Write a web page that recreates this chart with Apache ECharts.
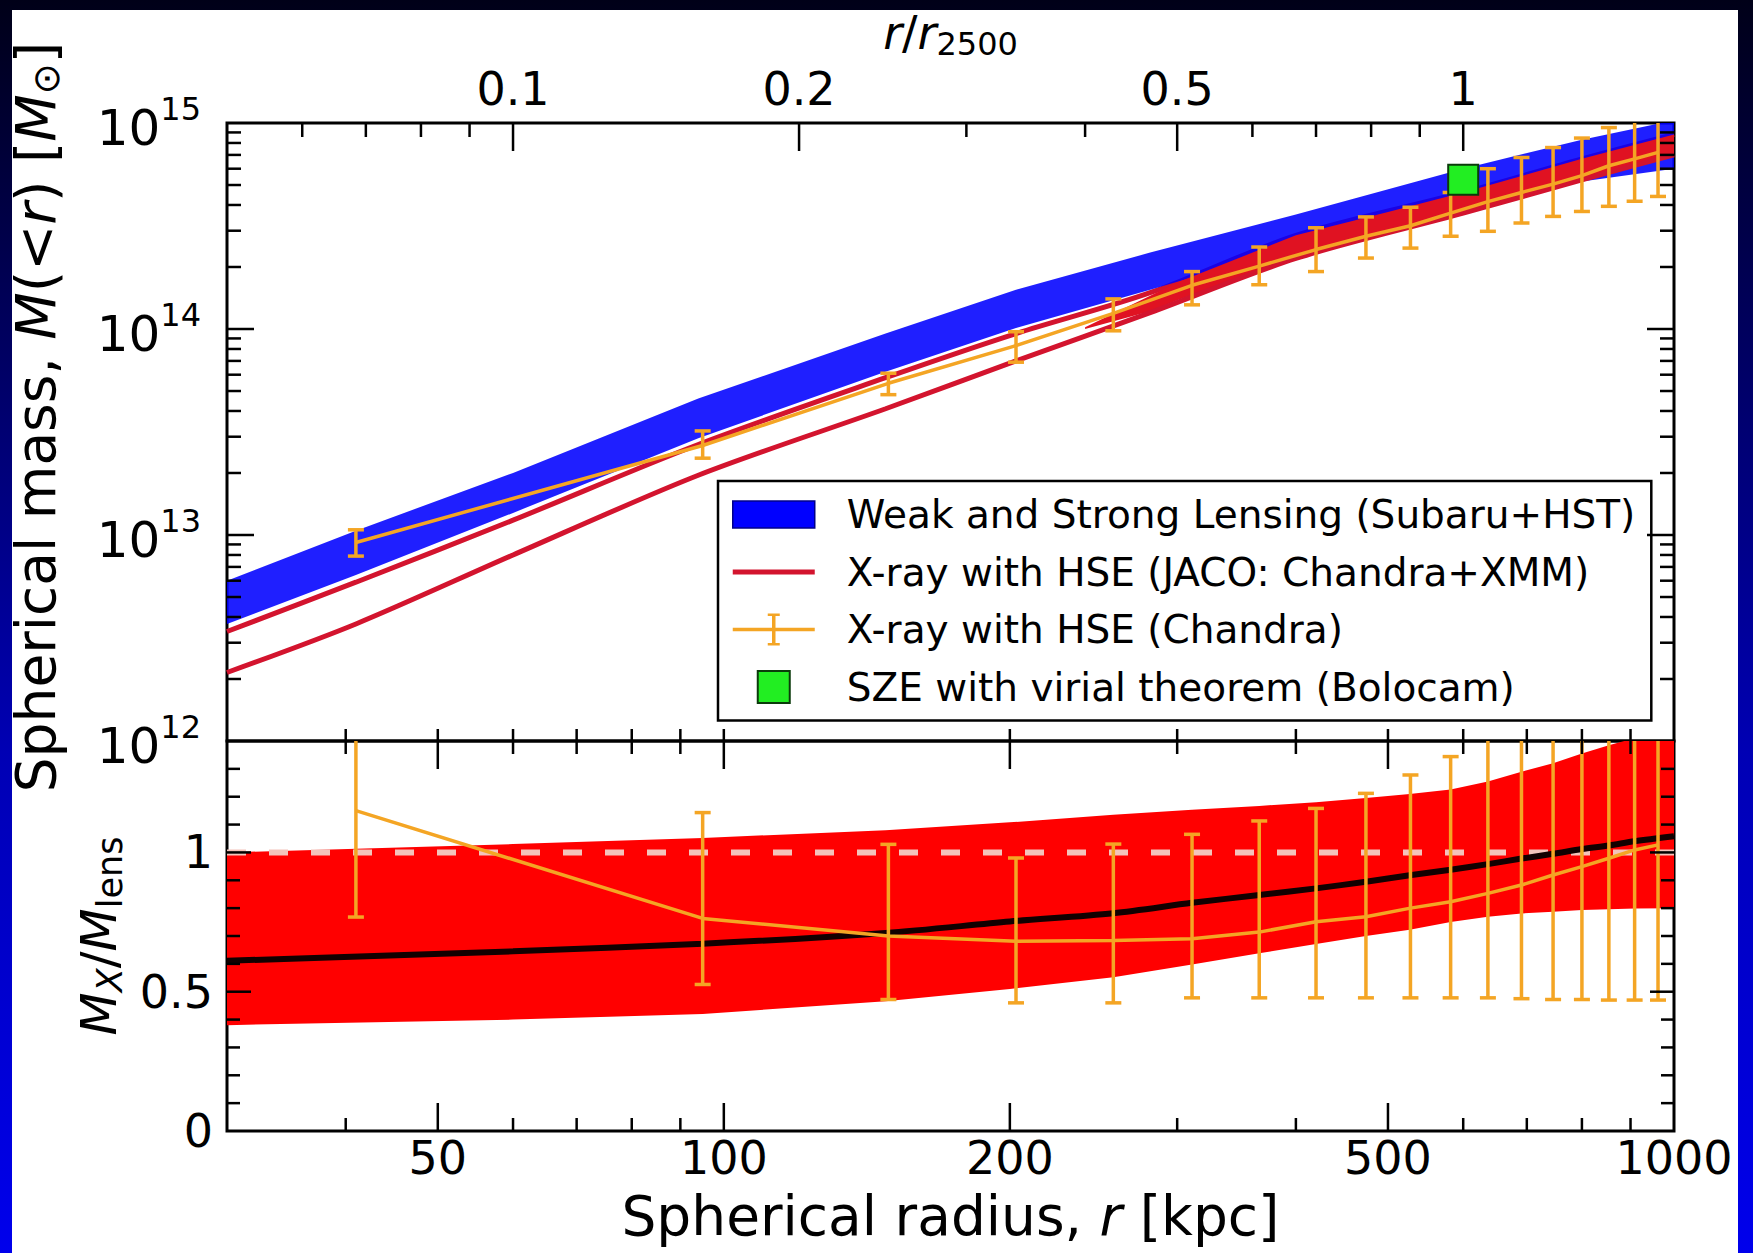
<!DOCTYPE html>
<html>
<head>
<meta charset="utf-8">
<script src="https://cdn.jsdelivr.net/npm/echarts@6/dist/echarts.min.js"></script>
<style>
  html, body { margin: 0; padding: 0; width: 1753px; height: 1253px; overflow: hidden;
    background: linear-gradient(to bottom, #000018 0%, #00005a 25%, #0000b4 60%, #0000ec 100%); }
  #paper { position: absolute; left: 12px; top: 10px; width: 1726px; height: 1243px; background: #fff; }
  #chart { position: absolute; left: 0; top: 0; width: 1753px; height: 1253px; }
</style>
</head>
<body>
<div id="paper"></div>
<div id="chart"></div>
<script>
// axis ranges
const R_MIN = 30, R_MAX = 1000;
const R2500 = 600;
const MASS_MIN = 1e12, MASS_MAX = 1e15;
const RATIO_MIN = 0, RATIO_MAX = 1.4;

// lensing band (Subaru+HST), M(<r) in Msun
const lensR  = [30, 41, 60, 94, 148, 203, 281, 400, 600, 800, 1000];
const lensHi = [6.0e12, 1.05e13, 2.0e13, 4.6e13, 9.5e13, 1.55e14, 2.35e14, 3.6e14, 6.0e14, 8.3e14, 1.03e15];
const lensLo = [3.7e12, 6.4e12, 1.28e13, 2.95e13, 6.2e13, 1.01e14, 1.55e14, 2.5e14, 4.3e14, 5.2e14, 6.0e14];

// JACO (Chandra+XMM): upper / lower profiles and the red region where they open up
const jacoR  = [30, 41, 60, 94, 148, 203, 281, 400, 600, 800, 1000];
const jacoHi = [3.4e12, 5.9e12, 1.18e13, 2.75e13, 5.8e13, 9.5e13, 1.5e14, 2.85e14, 4.6e14, 6.7e14, 8.8e14];
const jacoLo = [2.15e12, 3.7e12, 8.0e12, 1.95e13, 4.1e13, 7.0e13, 1.2e14, 2.2e14, 3.65e14, 5.3e14, 7.0e14];
const jacoFillR  = [240, 281, 300, 400, 500, 600, 800, 1000];
const jacoFillHi = [1.02e14, 1.45e14, 1.68e14, 2.85e14, 3.7e14, 4.6e14, 6.7e14, 8.8e14];
const jacoFillLo = [1.0e14, 1.22e14, 1.38e14, 2.2e14, 2.9e14, 3.65e14, 5.3e14, 7.0e14];

// Chandra HSE points
const chandraR   = [41, 95, 149, 203, 257, 311, 366, 420, 474, 528, 582, 637, 691, 746, 800, 854, 909, 962];
const chandraM   = [9.2e12, 2.72e13, 5.45e13, 8.3e13, 1.19e14, 1.63e14, 2.02e14, 2.43e14, 2.82e14, 3.17e14, 3.65e14, 4.15e14, 4.6e14, 5.05e14, 5.55e14, 6.2e14, 6.7e14, 7.2e14];
const chandraMLo = [7.9e12, 2.36e13, 4.8e13, 6.9e13, 9.8e13, 1.31e14, 1.64e14, 1.9e14, 2.21e14, 2.47e14, 2.82e14, 2.98e14, 3.27e14, 3.52e14, 3.72e14, 3.94e14, 4.17e14, 4.4e14];
const chandraMHi = [1.06e13, 3.2e13, 6.1e13, 9.7e13, 1.4e14, 1.9e14, 2.5e14, 3.1e14, 3.5e14, 3.9e14, 4.6e14, 6.0e14, 6.8e14, 7.6e14, 8.45e14, 9.5e14, 1.05e15, 1.15e15];

// SZE (Bolocam)
const szeR = [600];
const szeM = [5.3e14];

// ratio panel: JACO / lensing band and its centre
const ratioR   = [30, 60, 95, 148, 200, 257, 311, 366, 420, 474, 527, 582, 637, 691, 746, 800, 854, 909, 1000];
const ratioHi  = [1.0, 1.03, 1.052, 1.08, 1.108, 1.135, 1.153, 1.167, 1.18, 1.195, 1.21, 1.226, 1.255, 1.29, 1.32, 1.355, 1.385, 1.41, 1.47];
const ratioLo  = [0.38, 0.40, 0.42, 0.466, 0.51, 0.552, 0.598, 0.638, 0.671, 0.7, 0.722, 0.75, 0.769, 0.781, 0.787, 0.793, 0.796, 0.799, 0.80];
const ratioMid = [0.611, 0.645, 0.672, 0.711, 0.752, 0.782, 0.819, 0.847, 0.871, 0.895, 0.918, 0.938, 0.958, 0.978, 0.995, 1.012, 1.025, 1.04, 1.058];

// Chandra / lensing ratio
const chandraRatio   = [1.15, 0.763, 0.70, 0.681, 0.684, 0.69, 0.714, 0.751, 0.769, 0.80, 0.823, 0.853, 0.883, 0.919, 0.949, 0.979, 1.009, 1.027];
const chandraRatioLo = [0.768, 0.526, 0.472, 0.46, 0.46, 0.478, 0.478, 0.478, 0.478, 0.478, 0.478, 0.478, 0.475, 0.472, 0.472, 0.47, 0.47, 0.47];
const chandraRatioHi = [1.6, 1.143, 1.029, 0.98, 1.03, 1.065, 1.113, 1.158, 1.212, 1.278, 1.344, 1.45, 1.6, 1.6, 1.6, 1.6, 1.6, 1.6];

// unity reference
const unityR = [30, 1000];
const unityV = [1, 1];

// ticks
const rMajorTicks = [50, 100, 200, 500];
const rMinorTicks = [40, 60, 70, 80, 90, 300, 400, 600, 700, 800, 900];
const rTickLabels = [50, 100, 200, 500, 1000];
const scaledMajorTicks = [0.1, 0.2, 0.5, 1];
const scaledMinorTicks = [0.06, 0.07, 0.08, 0.09, 0.3, 0.4, 0.6, 0.7, 0.8, 0.9];
const scaledTickLabels = [0.1, 0.2, 0.5, 1];
const massMajorTicks = [1e13, 1e14];
const massMinorTicks = [2e12, 3e12, 4e12, 5e12, 6e12, 7e12, 8e12, 9e12,
  2e13, 3e13, 4e13, 5e13, 6e13, 7e13, 8e13, 9e13,
  2e14, 3e14, 4e14, 5e14, 6e14, 7e14, 8e14, 9e14];
const ratioMajorTicks = [0.5, 1];
const ratioMinorTicks = [0.1, 0.2, 0.3, 0.4, 0.6, 0.7, 0.8, 0.9, 1.1, 1.2, 1.3];

const LENS_NAME = 'Weak and Strong Lensing (Subaru+HST)';
const JACO_NAME = 'X-ray with HSE (JACO: Chandra+XMM)';
const CXO_NAME = 'X-ray with HSE (Chandra)';
const SZE_NAME = 'SZE with virial theorem (Bolocam)';

const FONT = "'DejaVu Sans', sans-serif";
const YELLOW = '#f4a524';
const JACO_RED = '#d3142e';
const chart = echarts.init(document.getElementById('chart'), null, { renderer: 'svg' });

function zip(xs, ys) {
  return xs.map((x, i) => [x, ys[i]]);
}

function band(name, axis, xs, los, his, color, z) {
  return {
    type: 'custom', name, xAxisIndex: axis, yAxisIndex: axis, z, clip: true, silent: true,
    itemStyle: { color },
    data: xs.map((x, i) => [x, los[i], his[i]]),
    encode: { x: 0, y: [1, 2] },
    renderItem(params, api) {
      if (params.dataIndex !== 0) return null;
      const upper = xs.map((x, i) => api.coord([x, his[i]]));
      const lower = xs.map((x, i) => api.coord([x, los[i]])).reverse();
      return { type: 'polygon', shape: { points: upper.concat(lower) }, style: { fill: color } };
    }
  };
}

function errorBars(axis, xs, los, his, z) {
  return {
    type: 'custom', xAxisIndex: axis, yAxisIndex: axis, z, clip: true, silent: true,
    data: xs.map((x, i) => [x, los[i], his[i]]),
    encode: { x: 0, y: [1, 2] },
    renderItem(params, api) {
      const x = api.value(0);
      const a = api.coord([x, api.value(1)]);
      const b = api.coord([x, api.value(2)]);
      const st = { stroke: YELLOW, lineWidth: 3.5 };
      const cap = 8;
      return { type: 'group', children: [
        { type: 'line', shape: { x1: a[0], y1: a[1], x2: b[0], y2: b[1] }, style: st },
        { type: 'line', shape: { x1: a[0] - cap, y1: a[1], x2: a[0] + cap, y2: a[1] }, style: st },
        { type: 'line', shape: { x1: b[0] - cap, y1: b[1], x2: b[0] + cap, y2: b[1] }, style: st }
      ]};
    }
  };
}

// inward ticks; edges = [[edgeValue, direction], ...]
function ticks(xAxisIndex, yAxisIndex, dim, values, len, edges) {
  return {
    type: 'custom', xAxisIndex, yAxisIndex, z: 10, silent: true, clip: false,
    data: values.map(v => dim === 'x' ? [v, edges[0][0]] : [edges[0][0], v]),
    renderItem(params, api) {
      const v = api.value(dim === 'x' ? 0 : 1);
      return { type: 'group', children: edges.map(([e, dir]) => {
        const p = api.coord(dim === 'x' ? [v, e] : [e, v]);
        const q = dim === 'x' ? [p[0], p[1] + dir * len] : [p[0] + dir * len, p[1]];
        return { type: 'line', shape: { x1: p[0], y1: p[1], x2: q[0], y2: q[1] },
          style: { stroke: '#000', lineWidth: 2.5 } };
      })};
    }
  };
}

function tickLabels(xAxisIndex, yAxisIndex, values, yEdge, offset) {
  return {
    type: 'custom', xAxisIndex, yAxisIndex, z: 10, silent: true, clip: false,
    data: values.map(v => [v, yEdge]),
    renderItem(params, api) {
      const v = api.value(0);
      const p = api.coord([v, yEdge]);
      return { type: 'text', x: p[0], y: p[1] + offset,
        style: { text: String(v), fontSize: 46, fontFamily: FONT, fill: '#000',
          align: 'center', verticalAlign: 'middle' } };
    }
  };
}

const hidden = { axisLine: { show: false }, axisTick: { show: false }, splitLine: { show: false } };

chart.setOption({
  animation: false,
  grid: [
    { left: 227, top: 123, width: 1447, height: 618, show: true, borderColor: '#000', borderWidth: 3, outerBoundsMode: 'none' },
    { left: 227, top: 741, width: 1447, height: 390, show: true, borderColor: '#000', borderWidth: 3, outerBoundsMode: 'none' }
  ],
  xAxis: [
    { type: 'log', gridIndex: 0, min: R_MIN, max: R_MAX, ...hidden, axisLabel: { show: false } },
    { type: 'log', gridIndex: 1, min: R_MIN, max: R_MAX, ...hidden, axisLabel: { show: false },
      name: 'Spherical radius, {i|r} [kpc]', nameLocation: 'middle', nameGap: 57,
      nameTextStyle: { fontSize: 55, fontFamily: FONT, color: '#000',
        rich: { i: { fontSize: 55, fontFamily: FONT, fontStyle: 'italic', color: '#000' } } } },
    { type: 'log', gridIndex: 0, position: 'top', min: R_MIN / R2500, max: R_MAX / R2500, ...hidden,
      axisLabel: { show: false },
      name: '{i|r}/{i|r}{sub|2500}', nameLocation: 'middle', nameGap: 63,
      nameTextStyle: { fontSize: 46, fontFamily: FONT, color: '#000',
        rich: {
          i: { fontSize: 46, fontFamily: FONT, fontStyle: 'italic', color: '#000' },
          sub: { fontSize: 32, fontFamily: FONT, color: '#000', verticalAlign: 'top', padding: [22, 0, 0, 0] }
        } } }
  ],
  yAxis: [
    { type: 'log', gridIndex: 0, min: MASS_MIN, max: MASS_MAX, ...hidden,
      axisLabel: { margin: 26,
        formatter: v => '{b|10}{s|' + Math.round(Math.log10(v)) + '}',
        rich: {
          b: { fontSize: 50, fontFamily: FONT, color: '#000', verticalAlign: 'bottom', padding: [10, 0, 0, 0] },
          s: { fontSize: 32, fontFamily: FONT, color: '#000', verticalAlign: 'top' }
        } },
      name: 'Spherical mass, {i|M}(<{i|r}) [{i|M}{sub|⊙}]', nameLocation: 'middle', nameGap: 162,
      nameTextStyle: { fontSize: 55, fontFamily: FONT, color: '#000', padding: [0, 0, 0, 30],
        rich: {
          i: { fontSize: 55, fontFamily: FONT, fontStyle: 'italic', color: '#000' },
          sub: { fontSize: 37, fontFamily: FONT, color: '#000', verticalAlign: 'top', padding: [22, 0, 0, 0] }
        } } },
    { type: 'value', gridIndex: 1, min: RATIO_MIN, max: RATIO_MAX, interval: 0.5, ...hidden,
      axisLabel: { margin: 14, fontSize: 46, fontFamily: FONT, color: '#000', showMaxLabel: false,
        formatter: v => String(v) },
      name: '{i|M}{isub|X}/{i|M}{sub|lens}', nameLocation: 'middle', nameGap: 100,
      nameTextStyle: { fontSize: 50, fontFamily: FONT, color: '#000',
        rich: {
          i: { fontSize: 50, fontFamily: FONT, fontStyle: 'italic', color: '#000' },
          isub: { fontSize: 35, fontFamily: FONT, fontStyle: 'italic', color: '#000', verticalAlign: 'top', padding: [22, 0, 0, 0] },
          sub: { fontSize: 35, fontFamily: FONT, color: '#000', verticalAlign: 'top', padding: [22, 0, 0, 0] }
        } } }
  ],
  legend: {
    orient: 'vertical', left: 718, top: 481, padding: [14, 16, 14, 14], itemGap: 18.5,
    itemWidth: 82, itemHeight: 32, backgroundColor: '#fff', borderColor: '#000', borderWidth: 2.5,
    selectedMode: false,
    textStyle: { fontSize: 39, fontFamily: FONT, color: '#000', padding: [0, 0, 0, 27] },
    data: [
      { name: LENS_NAME, icon: 'path://M0,0h82v27h-82z', itemStyle: { color: '#0000ff', borderColor: '#00008a', borderWidth: 1.5 } },
      { name: JACO_NAME, icon: 'path://M0,0h82v5h-82z', itemStyle: { color: JACO_RED, borderWidth: 0 } },
      { name: CXO_NAME, icon: 'path://M0,14.25h82v3.5h-82zM39.25,0h3.5v32h-3.5zM35,0h12v2.5h-12zM35,29.5h12v2.5h-12z',
        itemStyle: { color: YELLOW, borderWidth: 0 } },
      { name: SZE_NAME, icon: 'path://M0,0h28v28h-28z', itemStyle: { color: '#22ee22', borderColor: '#0b3b0b', borderWidth: 2 } }
    ]
  },
  series: [
    // top panel
    { type: 'line', name: JACO_NAME, xAxisIndex: 0, yAxisIndex: 0, z: 1, data: zip(jacoR, jacoHi),
      symbol: 'none', smooth: 0.3, lineStyle: { color: JACO_RED, width: 5 }, silent: true },
    band(LENS_NAME, 0, lensR, lensLo, lensHi, 'rgba(0,0,255,0.88)', 2),
    band(JACO_NAME, 0, jacoFillR, jacoFillLo, jacoFillHi, '#e01222', 3),
    { type: 'line', name: JACO_NAME, xAxisIndex: 0, yAxisIndex: 0, z: 3, data: zip(jacoR, jacoLo),
      symbol: 'none', smooth: 0.3, lineStyle: { color: JACO_RED, width: 5 }, silent: true },
    errorBars(0, chandraR, chandraMLo, chandraMHi, 4),
    { type: 'line', name: CXO_NAME, xAxisIndex: 0, yAxisIndex: 0, z: 4, data: zip(chandraR, chandraM),
      symbol: 'none', lineStyle: { color: YELLOW, width: 3.5 }, silent: true },
    { type: 'scatter', name: SZE_NAME, xAxisIndex: 0, yAxisIndex: 0, z: 5, data: zip(szeR, szeM),
      symbol: 'rect', symbolSize: 30, itemStyle: { color: '#22ee22', borderColor: '#0b3b0b', borderWidth: 2, opacity: 1 }, silent: true },

    // bottom panel
    band('ratioBand', 1, ratioR, ratioLo, ratioHi, '#ff0000', 2),
    { type: 'line', xAxisIndex: 1, yAxisIndex: 1, z: 3, data: zip(unityR, unityV), symbol: 'none',
      lineStyle: { color: '#f3c4bb', width: 6, type: [19, 23] }, silent: true },
    { type: 'line', xAxisIndex: 1, yAxisIndex: 1, z: 4, data: zip(ratioR, ratioMid), symbol: 'none',
      smooth: 0.3, lineStyle: { color: '#120000', width: 6 }, silent: true },
    errorBars(1, chandraR, chandraRatioLo, chandraRatioHi, 5),
    { type: 'line', xAxisIndex: 1, yAxisIndex: 1, z: 5, data: zip(chandraR, chandraRatio), symbol: 'none',
      lineStyle: { color: YELLOW, width: 3.5 }, silent: true },

    // frame ticks, top panel
    ticks(0, 0, 'x', rMajorTicks.concat(rMinorTicks), 12, [[MASS_MIN, -1]]),
    ticks(2, 0, 'x', scaledMajorTicks, 28, [[MASS_MAX, 1]]),
    ticks(2, 0, 'x', scaledMinorTicks, 14, [[MASS_MAX, 1]]),
    ticks(0, 0, 'y', massMajorTicks, 27, [[R_MIN, 1], [R_MAX, -1]]),
    ticks(0, 0, 'y', massMinorTicks, 14, [[R_MIN, 1], [R_MAX, -1]]),
    tickLabels(2, 0, scaledTickLabels, MASS_MAX, -34),

    // frame ticks, bottom panel
    ticks(1, 1, 'x', rMajorTicks, 28, [[RATIO_MIN, -1], [RATIO_MAX, 1]]),
    ticks(1, 1, 'x', rMinorTicks, 13, [[RATIO_MIN, -1], [RATIO_MAX, 1]]),
    ticks(1, 1, 'y', ratioMajorTicks, 24, [[R_MIN, 1], [R_MAX, -1]]),
    ticks(1, 1, 'y', ratioMinorTicks, 13, [[R_MIN, 1], [R_MAX, -1]]),
    tickLabels(1, 1, rTickLabels, RATIO_MIN, 27)
  ]
});
</script>
</body>
</html>
